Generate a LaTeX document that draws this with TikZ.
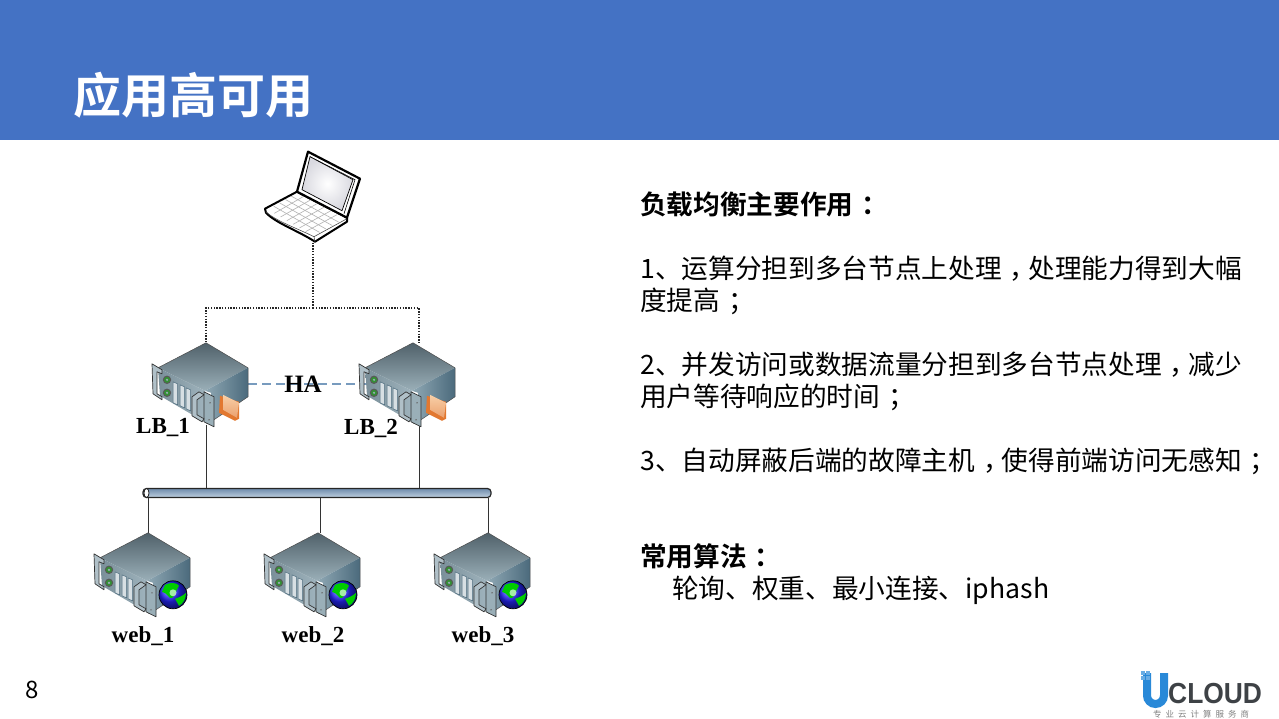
\documentclass[tikz,border=0pt]{standalone}
\usepackage{fontspec}
\usepackage{graphicx}
\setmainfont{Noto Sans CJK SC}[BoldFont={Noto Sans CJK SC Bold}]
\newfontfamily\labelfont{Liberation Serif}
\newfontfamily\logofont{Liberation Sans}
\usetikzlibrary{calc,positioning}
\definecolor{ucblue}{RGB}{68,114,196}
\definecolor{ucsky}{RGB}{41,137,216}
\definecolor{ucdark}{RGB}{62,66,70}
\definecolor{hadash}{RGB}{120,155,190}
\definecolor{srvtop}{RGB}{80,97,106}
\definecolor{srvmid}{RGB}{154,175,184}
\definecolor{srvfront}{RGB}{143,168,180}
\definecolor{srvside}{RGB}{75,106,124}
\definecolor{srvear}{RGB}{176,192,200}
\definecolor{diskpale}{RGB}{248,208,168}
\definecolor{diskdeep}{RGB}{226,120,48}
\definecolor{bustop}{RGB}{111,140,172}
\definecolor{buslow}{RGB}{192,208,224}
\newcommand{\midpunct}[1]{\makebox[1em][l]{\hspace{0.3em}#1}}
\tikzstyle{hostbox} = [rectangle, minimum width=84pt, minimum height=82pt, inner sep=0pt]
\tikzstyle{hostlabel} = [font=\labelfont\bfseries\fontsize{23}{23}\selectfont, inner sep=0pt, text=black]
\tikzstyle{wire} = [line width=0.8pt, color=black!80]
\tikzstyle{dotwire} = [line width=1.1pt, color=black!85, dash pattern=on 1.4pt off 1.4pt]
\tikzstyle{slab} = [draw=black!80, line width=0.7pt, line join=round]
\tikzset{
  server/.pic={
    \shade[left color=srvfront!85!black, right color=srvfront!80!white] (-48,25) -- (-1,48) -- (7,78) -- (0,80) -- (-46,53) -- cycle;
    \shade[top color=srvtop, bottom color=srvmid] (0,0) -- (42,25) -- (-1,48) -- (-48,25) -- cycle;
    \shade[left color=srvfront, right color=srvside] (-1,48) -- (42,25) -- (42,54) -- (5,79) -- (5,50) -- cycle;
    \draw[black!70, line width=0.5pt, line join=round] (-48,25) -- (0,0) -- (42,25) -- (42,54) -- (5,79);
    \fill[srvear, slab] (-54,21) -- (-44,27) -- (-44,31) -- (-49,29) -- (-49,51) -- (-44,54) -- (-44,57) -- (-53,51) -- cycle;
    \foreach \sx/\sy in {-33/39,-26/42,-20/45}
      \fill[srvmid!40!white, draw=srvside, line width=0.5pt] (\sx,\sy) -- (\sx+4.5,\sy+2) -- (\sx+4.5,\sy+23) -- (\sx,\sy+21) -- cycle;
    \foreach \ly in {37,50}{
      \fill[black!65] (-39,\ly) circle (4.2);
      \fill[green!45!black!80] (-39,\ly) circle (3);
      \fill[srvmid] (-39,\ly) circle (1.2);
    }
    \fill[srvear, slab] (-1,50) -- (5,53) -- (6,82) -- (0,80) -- cycle;
    \fill[srvmid, slab] (-2,49) -- (8,54) -- (8,84) -- (-2,79) -- cycle;
    \fill[srvear, slab] (-14,54) -- (-7,49) -- (-2,52) -- (-9,57) -- (-9,72) -- (-2,76) -- (-4,79) -- (-14,73) -- cycle;
    \fill[black!60] (4,60) circle (0.8) (3,77) circle (0.8);
  },
  orangedisk/.pic={
    \fill[diskdeep] (14,53) -- (13,70) -- (29,78) -- (33,76) -- (33,59) -- cycle;
    \shade[top color=diskpale, bottom color=diskdeep!70!white] (17,52) -- (33,60) -- (31,75) -- (17,67) -- cycle;
  },
  globe/.pic={
    \shade[ball color=blue!85!white] (25,62) circle (14);
    \fill[green!80!black] (17,52) .. controls (23,49) and (29,50) .. (31,53) .. controls (27,58) and (29,62) .. (24,65) .. controls (21,67) and (20,60) .. (14,59) -- cycle;
    \fill[green!80!black] (27,66) .. controls (33,64) and (36,62) .. (38,60) .. controls (38,66) and (35,71) .. (31,73) -- cycle;
    \fill[white, opacity=0.65] (25,60) circle (3.5);
    \draw[black, line width=0.7pt] (25,62) circle (14);
  },
  notebook/.pic={
    \coordinate (ka) at (-16,-50);
    \coordinate (kb) at (32,-24);
    \coordinate (kc) at (0,-7);
    \coordinate (kd) at (-45,-33);
    \filldraw[white, draw=black, line width=2pt, line join=round] (-16,-51) -- (-48,-34) -- (-47,-30) .. controls (-38,-20) and (-15,-12) .. (2,-1) -- (34,-21) -- (34,-25) -- cycle;
    \draw[black!70, line width=0.6pt] (-47,-31) .. controls (-38,-22) and (-15,-14) .. (1,-6) -- (2,-1);
    \draw[black!70, line width=0.6pt] (1,-6) -- (34,-24);
    \foreach \t in {0.14,0.28,0.42,0.56,0.7,0.84}
      \draw[black!30, line width=0.6pt] ($(ka)!\t!(kb)$) -- ($(kd)!\t!(kc)$);
    \foreach \t in {0.2,0.4,0.6,0.8}
      \draw[black!30, line width=0.6pt] ($(ka)!\t!(kd)$) -- ($(kb)!\t!(kc)$);
    \filldraw[white, draw=black, line width=2.2pt, line join=round] (-5,-91) -- (47,-64) -- (34,-25) -- (-16,-51) -- cycle;
    \draw[black, line width=0.6pt] (-3,-86) -- (42,-63) -- (31,-29);
    \shade[inner color=white, outer color=blue!18!black!15, draw=black, line width=0.7pt] (-3,-86) -- (40,-63) -- (29,-32) -- (-11,-53) -- cycle;
  }
}
\begin{document}
\begin{tikzpicture}[x=1pt, y=-1pt]
\useasboundingbox (0,0) rectangle (1279,719);
\node (header) [rectangle, fill=ucblue, minimum width=1279pt, minimum height=140pt, inner sep=0pt, anchor=north west] at (0,0) {};
\node (title) [anchor=west, inner sep=0pt, text=white, font=\bfseries\fontsize{48}{48}\selectfont] at (73,95) {应用高可用};
\node (laptop) [rectangle, minimum width=96pt, minimum height=91pt, inner sep=0pt] at (313,197) {};
\coordinate (split) at (313,308);
\node (lb1) [hostbox] at (206,384) {};
\node (lb2) [hostbox] at (413,384) {};
\node (bus) [rectangle, rounded corners=3.5pt, minimum width=348pt, minimum height=9pt, inner sep=0pt, draw=black!85, line width=1.2pt, top color=bustop, bottom color=buslow] at (317,493) {};
\node (web1) [hostbox] at (148,574) {};
\node (web2) [hostbox] at (318,574) {};
\node (web3) [hostbox] at (488,574) {};
\fill[white, draw=black!85, line width=0.8pt] (146.5,493) ellipse (2.5 and 4.5);
\draw[dotwire] (laptop.south) -- (split);
\draw[dotwire] (split) -| (lb1.north);
\draw[dotwire] (split) -| ([xshift=6]lb2.north);
\draw[color=hadash, line width=1.2pt, dash pattern=on 9pt off 5pt] (lb1.east) -- (lb2.west);
\draw[wire] (lb1.south) -- (lb1.south |- bus.north);
\draw[wire] ([xshift=6]lb2.south) -- ([xshift=6]lb2.south |- bus.north);
\draw[wire] (web1.north |- bus.south) -- (web1.north);
\draw[wire] ([xshift=2]web2.north |- bus.south) -- ([xshift=2]web2.north);
\draw[wire] (web3.north |- bus.south) -- (web3.north);
\pic at (laptop.south) {notebook};
\pic at (lb1.north) {server};
\pic at (lb1.north) {orangedisk};
\pic at (lb2.north) {server};
\pic at (lb2.north) {orangedisk};
\pic at (web1.north) {server};
\pic at (web1.north) {globe};
\pic at (web2.north) {server};
\pic at (web2.north) {globe};
\pic at (web3.north) {server};
\pic at (web3.north) {globe};
\node (ha) [hostlabel, font=\labelfont\bfseries\fontsize{25}{25}\selectfont] at (303,384) {HA};
\node (lb1label) [hostlabel] at (163,428) {LB\_1};
\node (lb2label) [hostlabel] at (371,428) {LB\_2};
\node (web1label) [hostlabel] at (143,636) {web\_1};
\node (web2label) [hostlabel] at (313,636) {web\_2};
\node (web3label) [hostlabel] at (483,636) {web\_3};
\node (notes) [anchor=north west, inner sep=0pt, align=left, font=\fontsize{26.67}{32}\selectfont] at (640,192) {
\textbf{负载均衡主要作用\midpunct{：}}\\
\mbox{}\\
1、运算分担到多台节点上处理\midpunct{，}处理能力得到大幅\\
度提高\midpunct{；}\\
\mbox{}\\
2、并发访问或数据流量分担到多台节点处理\midpunct{，}减少\\
用户等待响应的时间\midpunct{；}\\
\mbox{}\\
3、自动屏蔽后端的故障主机\midpunct{，}使得前端访问无感知\midpunct{；}\\
\mbox{}\\
\mbox{}\\
\textbf{常用算法\midpunct{：}}\\
\hspace*{32pt}轮询、权重、最小连接、iphash};
\node (pageno) [inner sep=0pt, font=\fontsize{24}{24}\selectfont] at (32,690) {8};
\draw[ucsky, line width=8pt] (1147,673) -- (1147,695.5) arc (180:0:8.5) -- (1164,673);
\foreach \dx in {0,1,2,3}
  \foreach \dy in {0,1,2,3}
    \fill[ucsky!70!white] (1141+2.4*\dx,671+2.4*\dy) rectangle +(1.7,1.7);
\node (logotext) [anchor=base west, inner sep=0pt, text=ucdark, font=\logofont\bfseries\fontsize{29}{29}\selectfont] at (1168,703) {\scalebox{0.91}[1]{CLOUD}};
\node (logosub) [inner sep=0pt, text=black!50, font=\fontsize{8.5}{9}\selectfont] at (1201,714) {专\hspace{4pt}业\hspace{4pt}云\hspace{4pt}计\hspace{4pt}算\hspace{4pt}服\hspace{4pt}务\hspace{4pt}商};
\end{tikzpicture}
\end{document}
